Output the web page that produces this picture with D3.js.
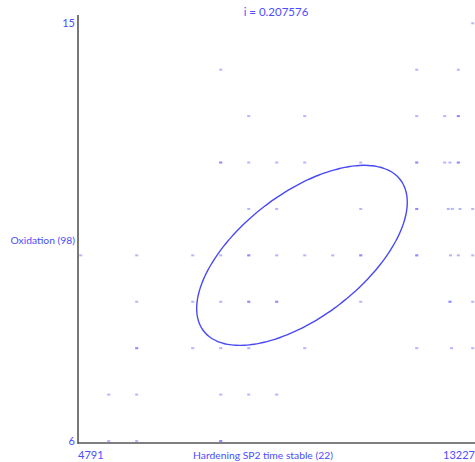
<!DOCTYPE html>
<html>
<head>
<meta charset="utf-8">
<script src="https://cdn.jsdelivr.net/npm/d3@7"></script>
<style>
  html, body { margin: 0; padding: 0; background: #fff; }
  svg { display: block; }
  text { font-family: Lato, "Open Sans", sans-serif; fill: #4d4dff; }
</style>
</head>
<body>
<svg id="chart" width="475" height="462"></svg>
<script>
// Scatter of Oxidation vs. hardening time, with a correlation ellipse
const title = "i = 0.207576";
const xLabel = "Hardening SP2 time stable (22)";
const yLabel = "Oxidation (98)";
const xDomain = [4791, 13227];
const yDomain = [6, 15];
const xTickLabels = ["4791", "13227"];
const yTickLabels = ["6", "15"];

// Observations (duplicates repeat, so overlapping marks render darker)
const pointsX = [
  13227,
  7804, 12022, 12917,
  8407, 9612, 12022, 12624, 12917, 12917,
  7804, 7804, 8407, 9009, 9612, 10817, 12022, 12022, 12624, 12738, 12917, 12917,
  8407, 9009, 10817, 12022, 12022, 12702, 12788, 12954, 13227,
  4791, 5996, 7201, 7804, 8407, 8407, 9009, 9612, 10214, 10817, 10817, 12022, 12022, 12749, 12917, 13227,
  5996, 7201, 7804, 8407, 8407, 9009, 9009, 10817, 12738, 12738, 13227,
  5996, 5996, 7201, 7804, 8407, 9612, 12022, 12770, 13227,
  5394, 5996, 7804, 8407, 9009,
  5394, 5996, 7804, 7804
];
const pointsY = [
  15,
  14, 14, 14,
  13, 13, 13, 13, 13, 13,
  12, 12, 12, 12, 12, 12, 12, 12, 12, 12, 12, 12,
  11, 11, 11, 11, 11, 11, 11, 11, 11,
  10, 10, 10, 10, 10, 10, 10, 10, 10, 10, 10, 10, 10, 10, 10, 10,
  9, 9, 9, 9, 9, 9, 9, 9, 9, 9, 9,
  8, 8, 8, 8, 8, 8, 8, 8, 8,
  7, 7, 7, 7, 7,
  6, 6, 6, 6
];

// Ellipse: centre, spread along each axis, and correlation
const ellipseCenter = [9553, 10.0];
const ellipseSpread = [2266, 1.94];
const ellipseCorr = 0.59;

const svg = d3.select("#chart");
const x = d3.scaleLinear().domain(xDomain).range([80.7, 472.7]);
const y = d3.scaleLinear().domain(yDomain).range([441, 23.3]);

const axisLeftX = 78, axisBottomY = 443;

// axis lines
svg.append("line")
  .attr("x1", axisLeftX).attr("x2", axisLeftX)
  .attr("y1", 15).attr("y2", axisBottomY + 1)
  .attr("stroke", "#555").attr("stroke-width", 1.6);
svg.append("line")
  .attr("x1", axisLeftX).attr("x2", 475)
  .attr("y1", axisBottomY).attr("y2", axisBottomY)
  .attr("stroke", "#555").attr("stroke-width", 1.6);

// y tick labels
svg.selectAll("text.ytick").data(yTickLabels).join("text")
  .attr("class", "ytick")
  .attr("x", 75)
  .attr("y", d => y(+d))
  .attr("dy", "0.35em")
  .attr("text-anchor", "end")
  .attr("font-size", 11)
  .text(d => d);

// x tick labels: min at the left, max at the right
svg.append("text")
  .attr("x", axisLeftX).attr("y", 459)
  .attr("text-anchor", "start").attr("font-size", 11)
  .text(xTickLabels[0]);
svg.append("text")
  .attr("x", 475).attr("y", 459)
  .attr("text-anchor", "end").attr("font-size", 11)
  .text(xTickLabels[1]);

// axis titles
svg.append("text")
  .attr("x", 263).attr("y", 459)
  .attr("text-anchor", "middle").attr("font-size", 10.3)
  .text(xLabel);
svg.append("text")
  .attr("x", 75).attr("y", 240)
  .attr("dy", "0.35em")
  .attr("text-anchor", "end").attr("font-size", 10.3)
  .text(yLabel);
svg.append("text")
  .attr("x", 276).attr("y", 16)
  .attr("text-anchor", "middle").attr("font-size", 11.5)
  .text(title);

// points
const pts = pointsX.map((v, i) => [v, pointsY[i]]);
svg.append("g").selectAll("rect").data(pts).join("rect")
  .attr("x", d => x(d[0]) - 1.5)
  .attr("y", d => y(d[1]) - 1)
  .attr("width", 3)
  .attr("height", 2)
  .attr("fill", "#5a5aff")
  .attr("opacity", 0.45);

// correlation ellipse
const steps = d3.range(0, 361, 3).map(a => a * Math.PI / 180);
const rho = ellipseCorr, k = Math.sqrt(1 - rho * rho);
const ell = steps.map(t => [
  ellipseCenter[0] + ellipseSpread[0] * Math.cos(t),
  ellipseCenter[1] + ellipseSpread[1] * (rho * Math.cos(t) + k * Math.sin(t))
]);
svg.append("path")
  .datum(ell)
  .attr("d", d3.line().x(d => x(d[0])).y(d => y(d[1])).curve(d3.curveCardinalClosed))
  .attr("fill", "none")
  .attr("stroke", "#4a4af5")
  .attr("stroke-width", 1.4);
</script>
</body>
</html>
